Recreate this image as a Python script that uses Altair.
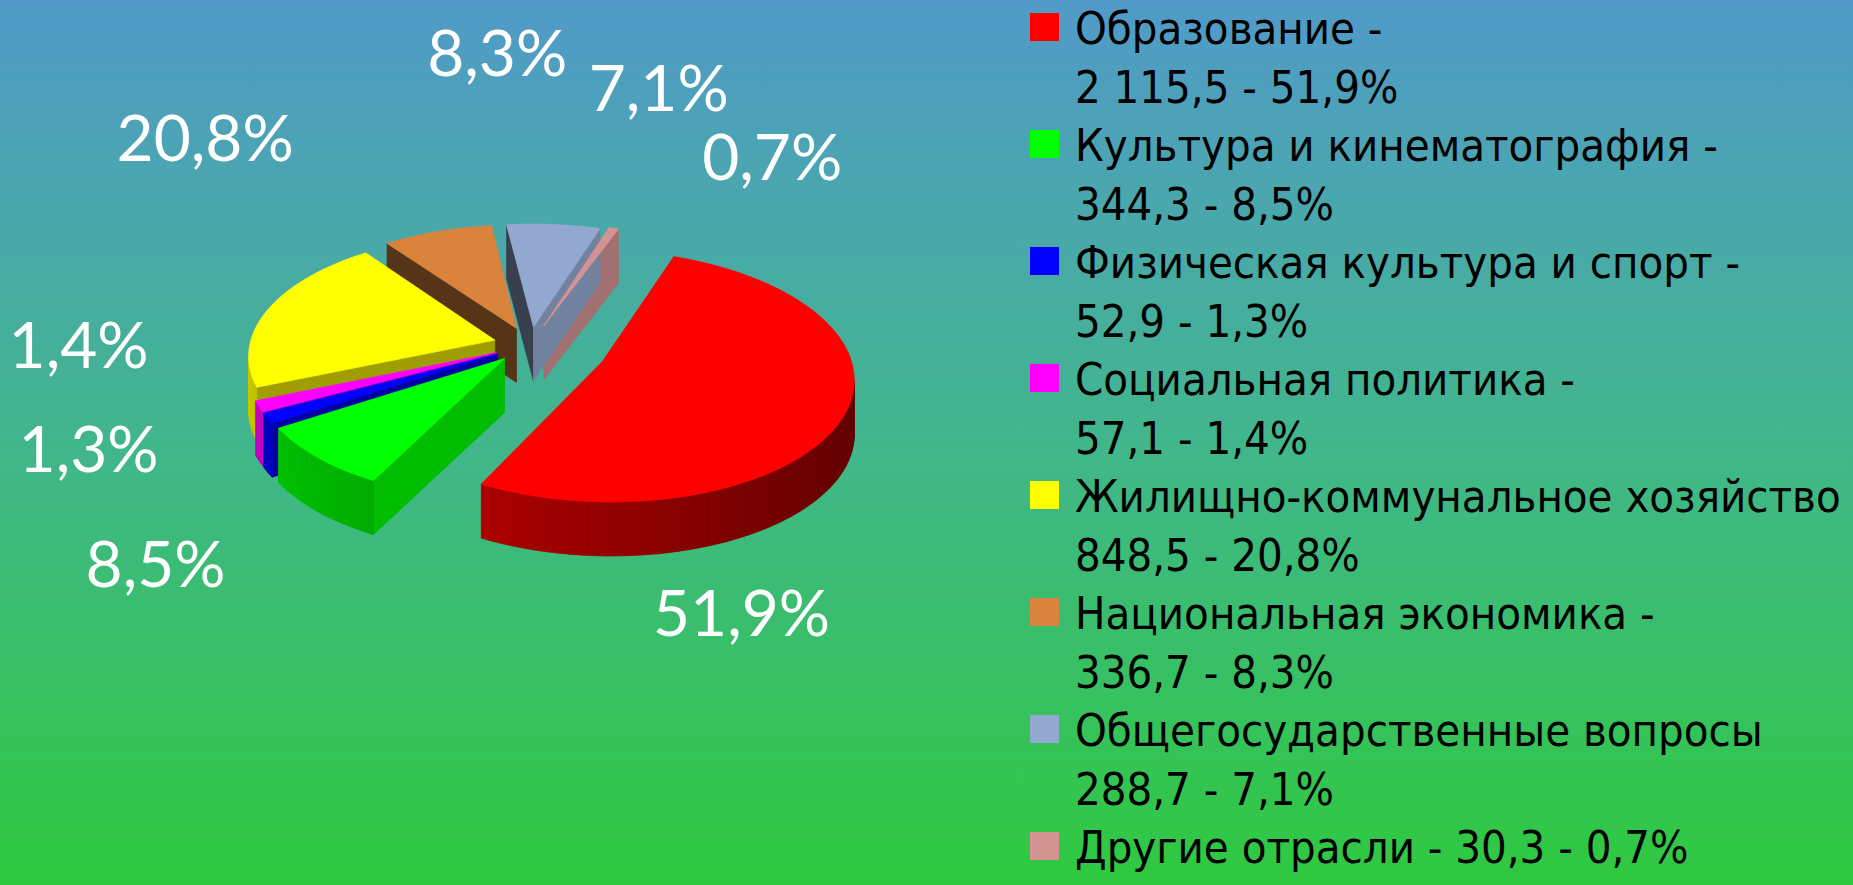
import altair as alt
import numpy as np
import pandas as pd

# ---------------- data ----------------
categories = [
    "Образование",
    "Культура и кинематография",
    "Физическая культура и спорт",
    "Социальная политика",
    "Жилищно-коммунальное хозяйство",
    "Национальная экономика",
    "Общегосударственные вопросы",
    "Другие отрасли",
]
amounts = [2115.5, 344.3, 52.9, 57.1, 848.5, 336.7, 288.7, 30.3]
percents = [51.9, 8.5, 1.3, 1.4, 20.8, 8.3, 7.1, 0.7]
legend_lines = [
    ["Образование -", "2 115,5 - 51,9%"],
    ["Культура и кинематография -", "344,3 - 8,5%"],
    ["Физическая культура и спорт -", "52,9 - 1,3%"],
    ["Социальная политика -", "57,1 - 1,4%"],
    ["Жилищно-коммунальное хозяйство", "848,5 - 20,8%"],
    ["Национальная экономика -", "336,7 - 8,3%"],
    ["Общегосударственные вопросы", "288,7 - 7,1%"],
    ["Другие отрасли - 30,3 - 0,7%"],
]

# ---------------- styles ----------------
top_colors = ["#FF0000", "#00FF00", "#0000FF", "#FF00FF", "#FFFF00", "#DA833D", "#93A8D0", "#D39393"]
explode = [0.32, 0.15, 0.15, 0.15, 0.15, 0.15, 0.15, 0.17]
W, H = 1853, 885
CX, CY = 530, 345          # pie centre (px)
A, B = 245, 122            # ellipse semi-axes (px)
P = 0.12                   # perspective strength
DEPTH = 54                 # pie thickness (px)
START = 21                 # first slice start angle (deg, clockwise from top)
LBL_CX, LBL_CY, LBL_RX, LBL_RY, LBL_START, LBL_MIN = 477, 377, 400, 320, 57, 0.06


def hexcol(c, f):
    r, g, b = int(c[1:3], 16), int(c[3:5], 16), int(c[5:7], 16)
    return "#%02x%02x%02x" % tuple(int(max(0, min(255, round(ch * f)))) for ch in (r, g, b))


def proj(u, v):
    s = 1 - P * v
    return CX + A * u * s, CY - B * v * s


vals = np.array(amounts, dtype=float)
share = vals / vals.sum()
a0s = START + 360 * np.concatenate([[0], np.cumsum(share)[:-1]])
a1s = a0s + 360 * share

recs = []


def add_poly(pid, pts, col):
    for k, (x, y) in enumerate(pts):
        recs.append({"pid": pid, "k": k, "x": x, "y": y, "fill": col})


def visible(p_from, p_to, p_in):
    ex, ey = p_to[0] - p_from[0], p_to[1] - p_from[1]
    wx, wy = p_in[0] - p_from[0], p_in[1] - p_from[1]
    return ex * (ex * wy - ey * wx) < 0


slices = []
for i in range(len(categories)):
    a0, a1 = a0s[i], a1s[i]
    m = np.radians((a0 + a1) / 2)
    ou, ov = explode[i] * np.sin(m), explode[i] * np.cos(m)

    def rim(deg, ou=ou, ov=ov):
        t = np.radians(deg)
        return proj(ou + np.sin(t), ov + np.cos(t))

    apex = proj(ou, ov)
    slices.append((i, a0, a1, ou, ov, rim, apex))

# back-to-front order by depth of slice centre
order = sorted(range(len(slices)), key=lambda j: -(slices[j][4]))

# walls first
for rank, j in enumerate(order):
    i, a0, a1, ou, ov, rim, apex = slices[j]
    base = top_colors[i]
    n = max(2, int((a1 - a0) / 1.5) + 2)
    angs = np.linspace(a0, a1, n)
    seg = 0
    # radial walls
    for edge_deg, inner_deg, phi in ((a0, a0 + 0.5, a0 - 90), (a1, a1 - 0.5, a1 + 90)):
        pr = rim(edge_deg)
        if visible(apex, pr, rim(inner_deg)):
            phi = phi % 360
            f = float(np.clip(0.77 - 0.003 * (phi - 108), 0.38, 0.8))
            add_poly(f"a{rank:02d}{seg:04d}",
                     [apex, pr, (pr[0], pr[1] + DEPTH), (apex[0], apex[1] + DEPTH)],
                     hexcol(base, f))
            seg += 1
    # outer wall
    for t1, t2 in zip(angs[:-1], angs[1:]):
        p1, p2 = rim(t1), rim(t2)
        if visible(p1, p2, apex):
            f = 0.58 - 0.2 * np.sin(np.radians((t1 + t2) / 2))
            add_poly(f"a{rank:02d}{seg:04d}",
                     [p1, p2, (p2[0], p2[1] + DEPTH), (p1[0], p1[1] + DEPTH)],
                     hexcol(base, f))
            seg += 1

# top faces
for rank, j in enumerate(order):
    i, a0, a1, ou, ov, rim, apex = slices[j]
    n = max(3, int((a1 - a0)) + 2)
    pts = [apex] + [rim(t) for t in np.linspace(a0, a1, n)]
    add_poly(f"b{rank:02d}0000", pts, top_colors[i])

poly = pd.DataFrame(recs)

# percentage labels
lw = np.maximum(share, LBL_MIN)
lw = lw / lw.sum()
lmid = LBL_START + 360 * (np.concatenate([[0], np.cumsum(lw)[:-1]]) + lw / 2)
labels = pd.DataFrame({
    "text": [f"{p:.1f}".replace(".", ",") + "%" for p in percents],
    "x": LBL_CX + LBL_RX * np.sin(np.radians(lmid)),
    "y": LBL_CY - LBL_RY * np.cos(np.radians(lmid)),
})

# legend
LEG_Y0, LEG_STEP, LEG_X = 30, 58.5, 1075
leg_rows, sq_rows = [], []
line = 0
for i, lines in enumerate(legend_lines):
    y = LEG_Y0 + LEG_STEP * line
    sq_rows.append({"category": categories[i], "x": 1030, "x2": 1059, "y": y - 17, "y2": y + 11})
    for t in lines:
        leg_rows.append({"text": t, "x": LEG_X, "y": LEG_Y0 + LEG_STEP * line})
        line += 1
leg_text = pd.DataFrame(leg_rows)
leg_sq = pd.DataFrame(sq_rows)

xs = alt.Scale(domain=[0, W], nice=False, zero=False)
ys = alt.Scale(domain=[0, H], nice=False, zero=False, reverse=True)

bg = alt.Chart(alt.Data(values=[{}])).mark_rect(
    fill=alt.Gradient(
        gradient="linear", x1=0, x2=0, y1=0, y2=1,
        stops=[alt.GradientStop(color="#519AC9", offset=0),
               alt.GradientStop(color="#41B68C", offset=0.5),
               alt.GradientStop(color="#2FC93F", offset=1)],
    )
).encode(x=alt.value(0), x2=alt.value(W), y=alt.value(0), y2=alt.value(H))

pie = alt.Chart(poly).mark_line(filled=True, interpolate="linear-closed", strokeWidth=0.8).encode(
    x=alt.X("x:Q", scale=xs, axis=None),
    y=alt.Y("y:Q", scale=ys, axis=None),
    detail="pid:N",
    order=alt.Order("k:Q"),
    fill=alt.Fill("fill:N", scale=None),
    stroke=alt.Stroke("fill:N", scale=None),
)

lbl = alt.Chart(labels).mark_text(
    color="white", font="Lato", fontSize=64, align="center", baseline="middle"
).encode(x=alt.X("x:Q", scale=xs, axis=None), y=alt.Y("y:Q", scale=ys, axis=None), text="text:N")

sq = alt.Chart(leg_sq).mark_rect().encode(
    x=alt.X("x:Q", scale=xs, axis=None), x2="x2:Q",
    y=alt.Y("y:Q", scale=ys, axis=None), y2="y2:Q",
    fill=alt.Fill("category:N", scale=alt.Scale(domain=categories, range=top_colors), legend=None),
)

ltxt = alt.Chart(leg_text).mark_text(
    color="black", font="Liberation Sans Narrow, DejaVu Sans Condensed, Open Sans",
    fontSize=45, align="left", baseline="middle"
).encode(x=alt.X("x:Q", scale=xs, axis=None), y=alt.Y("y:Q", scale=ys, axis=None), text="text:N")

chart = alt.layer(bg, pie, lbl, sq, ltxt).properties(
    width=W, height=H, padding=0, autosize=alt.AutoSizeParams(type="none")
).configure_view(strokeWidth=0)

chart.save("out.html", embed_options={"renderer": "svg", "actions": False})
